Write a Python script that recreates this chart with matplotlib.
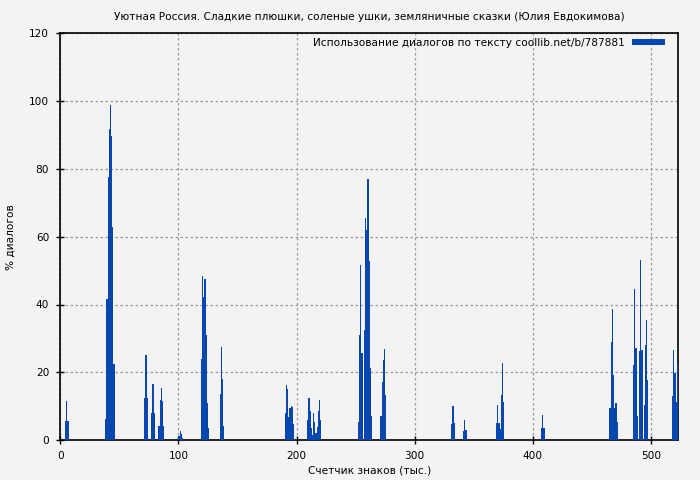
import matplotlib
matplotlib.use("Agg")
import matplotlib.pyplot as plt

title = "Уютная Россия. Сладкие плюшки, соленые ушки, земляничные сказки (Юлия Евдокимова)"
legend_label = "Использование диалогов по тексту coollib.net/b/787881"
xlabel = "Счетчик знаков (тыс.)"
ylabel = "% диалогов"

# position (thousand chars) and % dialogs
positions = [4, 5, 6,
             38, 39, 40, 41, 42, 43, 44, 45,
             71, 72, 73,
             77, 78, 79,
             83, 84, 85, 86, 87,
             100, 101, 102, 103,
             119, 120, 121, 122, 123, 124, 125,
             135, 136, 137, 138,
             190, 191, 192, 193, 194, 195, 196, 197,
             209, 210, 211, 212, 213, 214, 215, 216, 217, 218, 219, 220,
             252, 253, 254, 255, 257, 258, 259, 260, 261, 262, 263,
             271, 272, 273, 274, 275,
             331, 332, 333,
             341, 342, 343,
             369, 370, 371, 372, 373, 374, 375,
             407, 408, 409,
             465, 466, 467, 468, 469, 470, 471,
             485, 486, 487, 488, 490, 491, 492, 494, 495, 496, 497,
             518, 519, 520, 521, 522]
values = [5.6, 11.5, 5.6,
          6.2, 41.6, 77.6, 91.8, 98.9, 89.7, 62.9, 22.4,
          12.4, 25.1, 12.4,
          8.0, 16.5, 8.1,
          4.1, 11.8, 15.3, 11.5, 4.0,
          1.2, 2.7, 1.8, 0.6,
          23.9, 48.4, 42.2, 47.5, 31.0, 10.9, 3.5,
          13.6, 27.4, 18.0, 4.1,
          8.0, 16.2, 15.0, 6.8, 9.4, 10.0, 9.7, 4.7,
          5.9, 12.4, 8.6, 3.5, 1.5, 8.0, 5.3, 2.0, 3.9, 8.6, 11.8, 5.9,
          5.3, 31.0, 51.7, 25.7, 32.5, 65.5, 62.0, 77.0, 52.8, 21.3, 7.1,
          7.0, 17.1, 23.6, 26.9, 13.3,
          4.7, 10.0, 4.9,
          2.7, 5.9, 2.9,
          4.9, 10.3, 4.9, 3.2, 13.3, 22.7, 11.2,
          3.5, 7.4, 3.5,
          9.4, 28.9, 38.7, 19.2, 9.4, 10.9, 5.3,
          22.1, 44.6, 27.2, 7.1, 26.3, 53.0, 26.5, 10.3, 28.0, 35.4, 17.7,
          13.0, 26.5, 19.8, 11.2, 22.7]

x_ticks = [0, 100, 200, 300, 400, 500]
y_ticks = [0, 20, 40, 60, 80, 100, 120]

bg = "#f3f3f3"
bar_color = "#0846b0"
fs = 7.6

plt.rcParams['font.family'] = ['DejaVu Sans']
fig = plt.figure(figsize=(7, 4.8), dpi=100, facecolor=bg)
ax = fig.add_axes([60.3/700, 40/480, (678-60.3)/700, (440-33.5)/480])
ax.set_facecolor(bg)

ax.bar(positions, values, width=1.0, align='edge', color=bar_color,
       linewidth=0, label=legend_label, zorder=3)

ax.set_xlim(0, 523)
ax.set_ylim(0, 120)
ax.set_xticks(x_ticks)
ax.set_yticks(y_ticks)
ax.grid(True, color="#9a9a9a", linestyle=(0, (2, 2)), linewidth=0.9, zorder=0)
for s in ax.spines.values():
    s.set_color("black")
    s.set_linewidth(1.2)
ax.tick_params(direction='inout', length=6, width=1, labelsize=fs, colors='black', pad=5)

ax.set_title(title, fontsize=fs, pad=10)
ax.set_xlabel(xlabel, fontsize=fs, labelpad=3)
ax.set_ylabel(ylabel, fontsize=fs, labelpad=10)

leg = ax.legend(loc='upper right', bbox_to_anchor=(0.9858, 1.0), frameon=False,
                markerfirst=False, fontsize=fs, handlelength=3.1, handleheight=0.45,
                borderaxespad=0.0, borderpad=0.4, handletextpad=0.75)

fig.savefig("out.png", dpi=100, facecolor=bg)
